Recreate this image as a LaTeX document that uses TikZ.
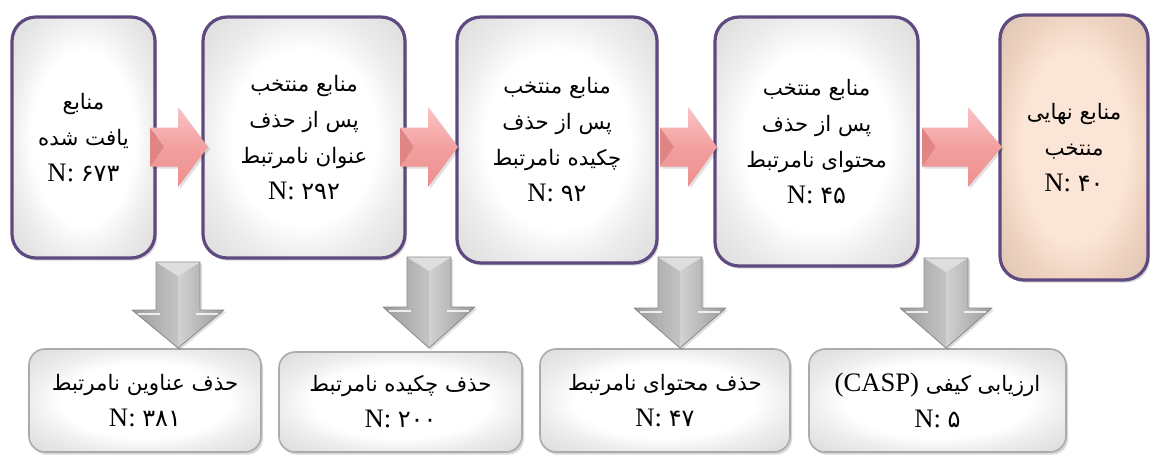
\documentclass[tikz,border=0pt]{standalone}
\usepackage{fontspec}
\setmainfont{Liberation Serif}
\newfontfamily\fa[Script=Arabic]{DejaVu Sans}
\TeXXeTstate=1
\usetikzlibrary{shadows}
\definecolor{boxpurple}{HTML}{5E4A7E}
\definecolor{peach}{HTML}{FBE5D6}
\definecolor{peachdk}{HTML}{F0D4C2}
\definecolor{graybd}{HTML}{ABABAB}
\definecolor{pinkhi}{HTML}{FAC4C4}
\definecolor{pinkmid}{HTML}{F3A0A0}
\definecolor{pinklo}{HTML}{EE8E8E}
\definecolor{pinkedge}{HTML}{E08484}
\definecolor{gA}{HTML}{9C9C9C}
\definecolor{gB}{HTML}{C4C4C4}
\definecolor{gC}{HTML}{D2D2D2}
\definecolor{gD}{HTML}{9A9A9A}
\definecolor{gE}{HTML}{DEDEDE}
\definecolor{gedge}{HTML}{8A8A8A}
\pgfdeclareradialshading{glowW}{\pgfpointorigin}{color(0bp)=(white); color(18bp)=(white); color(25bp)=(black!7); color(35bp)=(black!14); color(50bp)=(black!14)}
\pgfdeclareradialshading{glowP}{\pgfpointorigin}{color(0bp)=(peach); color(18bp)=(peach); color(25bp)=(peachdk); color(35bp)=(peachdk!92!black); color(50bp)=(peachdk!92!black)}
\newcommand\Fa[1]{{\fa\fontsize{16}{27}\selectfont\beginR #1\endR}}
\newcommand\Nn[1]{N: {\fa\fontsize{18}{27}\selectfont #1}}
\newcommand\pinkarr[4]{%
  \fill[black,opacity=0.12] (#1+2,#4-17.5) -- (#2+2,#4-17.5) -- (#2+2,#4-38) -- (#3+2,#4+2) -- (#2+2,#4+42) -- (#2+2,#4+21.5) -- (#1+2,#4+21.5) -- cycle;
  \shade[top color=pinkhi, bottom color=pinkmid] (#1,#4-19.5) -- (#2,#4-19.5) -- (#2,#4-40) -- (#3,#4) -- (#1+14,#4) -- cycle;
  \shade[top color=pinkmid, bottom color=pinklo] (#1+14,#4) -- (#3,#4) -- (#2,#4+40) -- (#2,#4+19.5) -- (#1,#4+19.5) -- cycle;
  \fill[pinkedge] (#1,#4-19.5) -- (#1+14,#4) -- (#1,#4+19.5) -- cycle;
}
\newcommand\grayarr[4]{%
  \fill[black,opacity=0.12] (#1-20,#2+2) -- (#1+24,#2+2) -- (#1+24,#3+2) -- (#1+48,#3+2) -- (#1+2,#4+2) -- (#1-44,#3+2) -- (#1-20,#3+2) -- cycle;
  \shade[left color=gA, right color=gB] (#1-22,#2) -- (#1,#2+14) -- (#1,#4) -- (#1-46,#3) -- (#1-22,#3) -- cycle;
  \shade[left color=gC, right color=gD] (#1+22,#2) -- (#1,#2+14) -- (#1,#4) -- (#1+46,#3) -- (#1+22,#3) -- cycle;
  \fill[gE] (#1-22,#2) -- (#1+22,#2) -- (#1,#2+14) -- cycle;
  \draw[white,line width=1pt,opacity=0.8] (#1-40,#3+4) -- (#1-18,#3+4);
  \draw[white,line width=1pt,opacity=0.8] (#1+40,#3+4) -- (#1+18,#3+4);
  \draw[gedge, line width=0.6pt, line join=round] (#1-22,#2) -- (#1+22,#2) -- (#1+22,#3) -- (#1+46,#3) -- (#1,#4) -- (#1-46,#3) -- (#1-22,#3) -- cycle;
}
\tikzset{
  topbox/.style={draw=boxpurple, line width=2.4pt, rounded corners=18pt,
    shading=glowW,
    drop shadow={opacity=0.3,shadow xshift=1.5pt,shadow yshift=-2pt},
    align=center, font=\fontsize{20}{27}\selectfont, inner sep=2pt},
  finalbox/.style={topbox, shading=glowP},
  botbox/.style={draw=graybd, line width=1.2pt, rounded corners=12pt,
    shading=glowW,
    drop shadow={opacity=0.3,shadow xshift=1.5pt,shadow yshift=-2pt},
    align=center, font=\fontsize{20}{27}\selectfont, inner sep=2pt}
}
\begin{document}
\begin{tikzpicture}[x=0.75pt,y=-0.75pt]
\useasboundingbox (0,0) rectangle (1153,454);
\fill[white] (0,0) rectangle (1153,454);
% top row
\node[topbox, minimum width=107.25pt, minimum height=180.75pt] (s1) at (83.5,137.5)
  {\Fa{منابع}\\\Fa{یافت شده}\\\Nn{۶۷۳}};
\node[topbox, minimum width=151.5pt, minimum height=180.75pt] (s2) at (304,137.5)
  {\Fa{منابع منتخب}\\\Fa{پس از حذف}\\\Fa{عنوان نامرتبط}\\\Nn{۲۹۲}};
\node[topbox, minimum width=150pt, minimum height=184.5pt] (s3) at (557,140)
  {\Fa{منابع منتخب}\\\Fa{پس از حذف}\\\Fa{چکیده نامرتبط}\\\Nn{۹۲}};
\node[topbox, minimum width=152.25pt, minimum height=186.75pt] (s4) at (816.5,141.5)
  {\Fa{منابع منتخب}\\\Fa{پس از حذف}\\\Fa{محتوای نامرتبط}\\\Nn{۴۵}};
\node[finalbox, minimum width=111pt, minimum height=198.75pt] (s5) at (1074,147.5)
  {\Fa{منابع نهایی}\\\Fa{منتخب}\\\Nn{۴۰}};
% bottom row
\node[botbox, minimum width=174pt, minimum height=77.25pt] (b1) at (145,400.5)
  {\Fa{حذف عناوین نامرتبط}\\\Nn{۳۸۱}};
\node[botbox, minimum width=182.25pt, minimum height=75pt] (b2) at (400.5,402)
  {\Fa{حذف چکیده نامرتبط}\\\Nn{۲۰۰}};
\node[botbox, minimum width=187.5pt, minimum height=77.25pt] (b3) at (665,400.5)
  {\Fa{حذف محتوای نامرتبط}\\\Nn{۴۷}};
\node[botbox, minimum width=192.75pt, minimum height=77.25pt] (b4) at (937.5,400.5)
  {(CASP)~\Fa{ارزیابی کیفی}\\\Nn{۵}};
% pink arrows
\pinkarr{150}{178}{208}{147}
\pinkarr{400}{428}{458}{147}
\pinkarr{660}{688}{717}{147}
\pinkarr{922}{968}{1002}{147}
% gray arrows
\grayarr{178}{262}{310}{348}
\grayarr{429}{257}{307}{348}
\grayarr{680}{257}{308}{348}
\grayarr{946}{258}{308}{348}
\end{tikzpicture}
\end{document}
